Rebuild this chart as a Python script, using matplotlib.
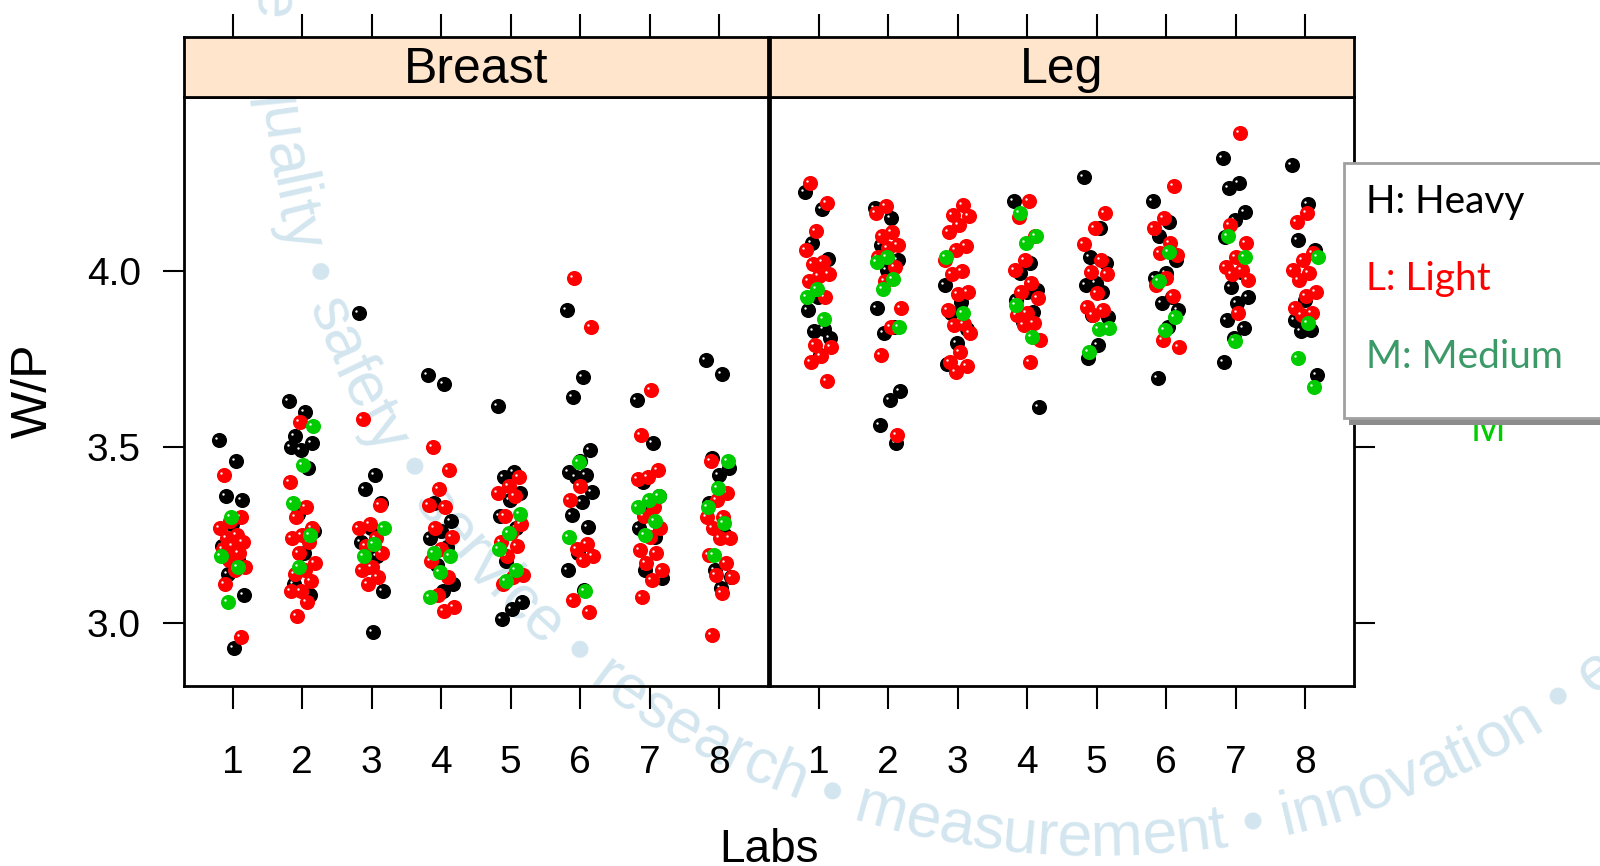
import matplotlib

matplotlib.use("Agg")

import matplotlib.pyplot as plt
import matplotlib.transforms as mtransforms
import numpy as np
from matplotlib.font_manager import FontProperties, findfont, get_font
from matplotlib.patches import Rectangle

# data (W/P per lab, by panel and by group)
labs = [1, 2, 3, 4, 5, 6, 7, 8]
panels = ["Breast", "Leg"]
y_ticks = [3.0, 3.5, 4.0]

breast_heavy = [
    [3.52, 3.46, 3.36, 3.35, 3.28, 3.22, 3.18, 3.14, 3.08, 2.93],
    [3.63, 3.60, 3.53, 3.51, 3.49, 3.50, 3.44, 3.31, 3.26, 3.20, 3.11, 3.08],
    [3.88, 3.42, 3.38, 3.34, 3.27, 3.23, 3.19, 3.16, 3.09, 2.975],
    [3.705, 3.68, 3.34, 3.29, 3.26, 3.24, 3.215, 3.165, 3.11, 3.09],
    [3.615, 3.43, 3.415, 3.37, 3.35, 3.305, 3.27, 3.175, 3.06, 3.04, 3.01],
    [3.89, 3.70, 3.643, 3.49, 3.46, 3.43, 3.42, 3.415, 3.373, 3.345, 3.307, 3.274, 3.20, 3.15, 3.095],
    [3.633, 3.51, 3.40, 3.36, 3.33, 3.27, 3.245, 3.15, 3.127],
    [3.747, 3.707, 3.47, 3.44, 3.42, 3.34, 3.25, 3.15, 3.13, 3.10],
]
breast_light = [
    [3.42, 3.30, 3.29, 3.27, 3.25, 3.24, 3.23, 3.22, 3.21, 3.20, 3.18, 3.16, 3.15, 3.11, 2.96],
    [3.57, 3.40, 3.33, 3.30, 3.27, 3.25, 3.24, 3.23, 3.20, 3.17, 3.15, 3.14, 3.12, 3.09, 3.09, 3.06, 3.02],
    [3.58, 3.335, 3.28, 3.27, 3.24, 3.22, 3.20, 3.16, 3.15, 3.13, 3.11],
    [3.50, 3.435, 3.38, 3.335, 3.33, 3.27, 3.245, 3.21, 3.175, 3.13, 3.08, 3.045, 3.035],
    [3.415, 3.39, 3.37, 3.36, 3.305, 3.28, 3.255, 3.23, 3.22, 3.19, 3.135, 3.13, 3.11],
    [3.98, 3.84, 3.39, 3.35, 3.225, 3.21, 3.19, 3.18, 3.065, 3.03],
    [3.662, 3.534, 3.435, 3.415, 3.41, 3.33, 3.305, 3.27, 3.245, 3.207, 3.20, 3.17, 3.15, 3.122, 3.074],
    [3.46, 3.37, 3.35, 3.30, 3.30, 3.27, 3.24, 3.24, 3.193, 3.17, 3.136, 3.13, 3.085, 2.966],
]
breast_medium = [
    [3.30, 3.19, 3.16, 3.06],
    [3.56, 3.45, 3.34, 3.25, 3.16],
    [3.27, 3.225, 3.19],
    [3.20, 3.19, 3.145, 3.075],
    [3.31, 3.255, 3.21, 3.15, 3.12],
    [3.458, 3.245, 3.09],
    [3.36, 3.35, 3.33, 3.29, 3.25],
    [3.46, 3.383, 3.33, 3.284, 3.193],
]

leg_heavy = [
    [4.225, 4.176, 4.08, 4.035, 3.925, 3.89, 3.835, 3.83, 3.81, 3.76],
    [4.18, 4.15, 4.074, 4.03, 4.003, 3.895, 3.84, 3.823, 3.66, 3.633, 3.562, 3.51],
    [3.96, 3.912, 3.88, 3.835, 3.795, 3.735],
    [4.20, 4.023, 3.994, 3.946, 3.94, 3.918, 3.883, 3.855, 3.614],
    [4.267, 4.122, 4.04, 4.023, 3.966, 3.96, 3.94, 3.875, 3.87, 3.79, 3.753],
    [4.20, 4.14, 4.10, 4.03, 3.994, 3.98, 3.926, 3.91, 3.89, 3.84, 3.696],
    [4.32, 4.25, 4.236, 4.168, 4.145, 4.097, 3.997, 3.955, 3.926, 3.91, 3.86, 3.838, 3.81, 3.74],
    [4.30, 4.19, 4.088, 4.06, 3.918, 3.86, 3.832, 3.83, 3.705],
]
leg_light = [
    [4.249, 4.193, 4.112, 4.06, 4.025, 4.02, 3.99, 3.985, 3.97, 3.925, 3.79, 3.785, 3.757, 3.74, 3.686],
    [4.185, 4.165, 4.11, 4.10, 4.074, 4.065, 4.04, 4.01, 3.97, 3.895, 3.84, 3.76, 3.534],
    [4.188, 4.16, 4.155, 4.13, 4.11, 4.07, 4.06, 4.03, 4.00, 3.99, 3.94, 3.935, 3.89, 3.85,
     3.845, 3.823, 3.77, 3.74, 3.73, 3.713],
    [4.20, 4.154, 4.10, 4.03, 4.003, 3.965, 3.94, 3.923, 3.88, 3.875, 3.852, 3.846, 3.804, 3.74],
    [4.165, 4.122, 4.077, 4.03, 3.997, 3.99, 3.937, 3.898, 3.89, 3.875],
    [4.24, 4.15, 4.122, 4.08, 4.05, 4.045, 3.98, 3.96, 3.93, 3.804, 3.784],
    [4.392, 4.13, 4.08, 4.04, 4.01, 4.003, 3.99, 3.974, 3.88],
    [4.165, 4.14, 4.05, 4.03, 4.003, 3.994, 3.974, 3.94, 3.93, 3.895, 3.88, 3.875],
]
leg_medium = [
    [3.95, 3.925, 3.863],
    [4.04, 4.025, 3.977, 3.95, 3.84],
    [4.04, 3.88],
    [4.165, 4.10, 4.08, 3.903, 3.813],
    [3.838, 3.835, 3.77],
    [4.054, 3.97, 3.87, 3.832],
    [4.10, 4.04, 3.80],
    [4.04, 3.852, 3.753, 3.67],
]

group_colors = ["black", "#ff0000", "#00cc00"]
legend_labels = ["H: Heavy", "L: Light", "M: Medium"]
legend_colors = ["black", "#ff0000", "#3c9a68"]
watermark = "science \u2022 quality \u2022 safety \u2022 service \u2022 research \u2022 measurement \u2022 innovation \u2022 excellence"

W, H = 1600, 866
FONT = ["Liberation Sans", "DejaVu Sans"]
NARROW = ["Liberation Sans Narrow", "Liberation Sans", "DejaVu Sans"]


def fx(px):
    return px / W


def fy(py):
    return 1 - py / H


def jitter(n, start):
    k = np.arange(start, start + n)
    return ((k * 0.618034) % 1.0 - 0.5) * 0.38


def draw_watermark(fig):
    prop = FontProperties(family="Liberation Sans", size=45)
    font = get_font(findfont(prop))
    font.set_size(45, 72)
    adv = np.array([font.load_char(ord(c)).linearHoriAdvance / 65536 for c in watermark])
    cum = np.concatenate([[0], np.cumsum(adv)])
    centers = cum[:-1] + adv / 2

    i1 = watermark.index("safety")
    i2 = watermark.index("measurement")
    c1 = (cum[i1] + cum[i1 + 6]) / 2
    c2 = (cum[i2] + cum[i2 + 11]) / 2
    a1, a2 = 206.0, 266.0
    theta = a1 + (centers - c1) * (a2 - a1) / (c2 - c1)

    cx, cy, radius = 1098, H - 13, 843
    for ch, t in zip(watermark, theta):
        if ch == " ":
            continue
        x = cx + radius * np.cos(np.radians(t))
        y = cy + radius * np.sin(np.radians(t))
        if x < -60 or x > W + 60 or y < -60 or y > H + 60:
            continue
        fig.text(x / W, y / H, ch, rotation=(t + 90) % 360, rotation_mode="anchor",
                 ha="center", va="baseline", fontsize=45, family="Liberation Sans",
                 color="#d3e6ef", zorder=-1)


def main():
    fig = plt.figure(figsize=(W / 100, H / 100), dpi=100)
    draw_watermark(fig)

    panel_left = [184, 770]
    panel_right = [768, 1354]
    panel_top, panel_bottom, strip_top = 97, 686, 37
    panel_groups = [
        [breast_heavy, breast_light, breast_medium],
        [leg_heavy, leg_light, leg_medium],
    ]

    for i, name in enumerate(panels):
        left, right = panel_left[i], panel_right[i]
        ax = fig.add_axes([fx(left), fy(panel_bottom), (right - left) / W,
                           (panel_bottom - panel_top) / H])
        ax.set_facecolor("none")
        ax.set_xlim(0.3, 8.7)
        ax.set_ylim(2.821, 4.494)
        for spine in ax.spines.values():
            spine.set_linewidth(2)

        highlight = mtransforms.offset_copy(ax.transData, fig=fig, x=-3, y=2, units="dots")
        for lab_index, lab in enumerate(labs):
            start = 0
            for group, color in zip(panel_groups[i], group_colors):
                values = group[lab_index]
                xs = lab + jitter(len(values), start)
                start += len(values)
                ax.scatter(xs, values, s=118, color=color, linewidths=0, zorder=3)
                ax.scatter(xs, values, s=3, color="white", linewidths=0, zorder=3,
                           transform=highlight)

        ax.set_xticks(labs)
        ax.set_xticklabels([str(lab) for lab in labs], family=FONT)
        ax.tick_params(axis="x", length=16.5, width=1.5, pad=26, labelsize=28,
                       direction="out")
        ax.set_yticks(y_ticks)
        if i == 0:
            ax.set_yticklabels([f"{v:.1f}" for v in y_ticks], family=FONT)
            ax.tick_params(axis="y", left=True, right=False, labelleft=True,
                           length=15, width=1.5, pad=16, labelsize=28, direction="out")
        else:
            ax.tick_params(axis="y", left=False, right=True, labelleft=False,
                           labelright=False, length=15, width=1.5, direction="out")

        strip = fig.add_axes([fx(left), fy(panel_top), (right - left) / W,
                              (panel_top - strip_top) / H])
        strip.set_facecolor("#ffe5cc")
        strip.set_xlim(0.3, 8.7)
        strip.set_ylim(0, 1)
        strip.set_xticks(labs)
        strip.set_yticks([])
        strip.tick_params(axis="x", top=True, bottom=False, labeltop=False,
                          labelbottom=False, length=16.5, width=1.5, direction="out")
        for spine in strip.spines.values():
            spine.set_linewidth(2)
        strip.text(4.5, 0.45, name, ha="center", va="center", fontsize=36, family=NARROW)

    fig.text(fx(34), fy(391), "W/P", rotation=90, ha="center", va="center",
             fontsize=36, family=FONT)
    fig.text(fx(769), fy(862), "Labs", ha="center", va="baseline", fontsize=33,
             family=FONT)

    # partly hidden key letter behind the pasted legend box
    fig.text(fx(1488), fy(441), "M", ha="center", va="baseline", fontsize=30,
             color="#00cc00", family=FONT, zorder=9)

    fig.add_artist(Rectangle((fx(1349), fy(425)), (1700 - 1349) / W, (425 - 168) / H,
                             transform=fig.transFigure, facecolor="#8c8c8c",
                             edgecolor="none", zorder=10))
    fig.add_artist(Rectangle((fx(1344), fy(418)), (1700 - 1344) / W, (418 - 163) / H,
                             transform=fig.transFigure, facecolor="white",
                             edgecolor="#a0a0a0", linewidth=2, zorder=11))
    for label, color, base in zip(legend_labels, legend_colors, [213, 290, 368]):
        fig.text(fx(1366), fy(base), label, ha="left", va="baseline", fontsize=28,
                 color=color, family=["Lato", "DejaVu Sans"], zorder=12)

    fig.savefig("out.png", dpi=100)
    plt.close(fig)


if __name__ == "__main__":
    main()
